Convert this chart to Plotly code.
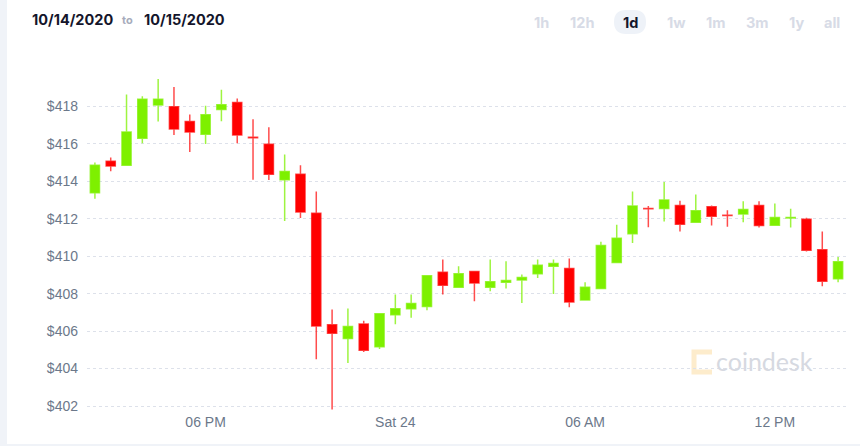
import plotly.graph_objects as go
import pandas as pd

# ---- data (30-minute candles) ----
times = pd.date_range("2020-10-23 14:30", periods=48, freq="30min")
opens = [413.39, 415.07, 414.86, 416.30, 418.07, 417.98, 417.20, 416.52, 417.84, 418.21,
         416.35, 415.98, 414.09, 414.38, 412.30, 406.34, 405.61, 406.38, 405.16, 406.88,
         407.20, 407.32, 409.14, 408.34, 409.18, 408.34, 408.61, 408.73, 409.07, 409.46,
         409.34, 407.66, 408.27, 409.66, 411.20, 412.55, 412.55, 412.71, 411.82, 412.64,
         412.19, 412.25, 412.71, 411.66, 412.04, 411.98, 410.34, 408.80]
highs = [415.00, 415.27, 418.64, 418.54, 419.46, 419.04, 417.57, 418.04, 418.89, 418.43,
         417.32, 416.89, 415.43, 414.86, 413.46, 407.16, 407.21, 406.55, 406.93, 407.95,
         407.96, 408.96, 409.82, 409.46, 409.18, 409.82, 409.73, 409.02, 409.82, 409.82,
         409.88, 408.61, 410.77, 411.68, 413.46, 412.68, 413.96, 412.96, 413.30, 412.71,
         412.45, 412.93, 412.93, 412.82, 412.54, 412.05, 411.32, 409.96]
lows = [413.07, 414.54, 414.82, 416.04, 417.20, 416.48, 415.57, 416.00, 417.21, 416.04,
        414.09, 414.07, 411.88, 412.04, 404.50, 401.82, 404.30, 404.89, 405.04, 406.36,
        406.71, 407.11, 407.95, 408.34, 407.59, 408.13, 408.27, 407.50, 408.84, 407.98,
        407.27, 407.66, 408.27, 409.66, 410.70, 411.55, 411.86, 411.32, 411.82, 411.64,
        411.57, 411.82, 411.54, 411.66, 411.54, 410.25, 408.39, 408.61]
closes = [414.86, 414.82, 416.63, 418.38, 418.38, 416.80, 416.63, 417.55, 418.09, 416.48,
          416.33, 414.38, 414.52, 412.36, 406.27, 405.88, 406.25, 404.98, 406.93, 407.20,
          407.48, 408.96, 408.45, 409.07, 408.57, 408.64, 408.70, 408.86, 409.52, 409.61,
          407.55, 408.34, 410.57, 410.96, 412.68, 412.53, 413.00, 411.71, 412.43, 412.14,
          412.17, 412.50, 411.64, 412.07, 412.07, 410.32, 408.66, 409.70]

tick_vals = ["2020-10-23 18:00", "2020-10-24 00:00", "2020-10-24 06:00", "2020-10-24 12:00"]
tick_text = ["06 PM", "Sat 24", "06 AM", "12 PM"]
y_ticks = [402, 404, 406, 408, 410, 412, 414, 416, 418]
start_label = "10/14/2020"
end_label = "10/15/2020"
range_buttons = ["1h", "12h", "1d", "1w", "1m", "3m", "1y", "all"]
button_x = [541, 582, 630, 676, 715, 757, 796, 832]

# ---- layout geometry ----
W, H = 860, 446
L, R, T, B = 87, 14, 60, 34
pw, ph = W - L - R, H - T - B


def px(x):
    return (x - L) / pw


def py(y):
    return (H - B - y) / ph


GREEN = "#7ef000"
RED = "#ff0000"
LABEL = "#6c788a"

fig = go.Figure()
fig.add_trace(go.Candlestick(
    x=times, open=opens, high=highs, low=lows, close=closes,
    increasing=dict(fillcolor=GREEN, line=dict(color="rgba(126,240,0,0.75)", width=1.5)),
    decreasing=dict(fillcolor=RED, line=dict(color="rgba(255,0,0,0.7)", width=1.5)),
    whiskerwidth=0, hoverinfo="skip", showlegend=False,
))

shapes = [
    # white card over the light page background
    dict(type="rect", xref="paper", yref="paper", layer="below",
         x0=px(7), x1=px(W + 5), y0=py(444), y1=py(-5),
         fillcolor="white", line=dict(width=0)),
    # pill behind the active "1d" button
    dict(type="path", xref="paper", yref="paper", layer="below",
         path=(f"M {px(626)},{py(10)} L {px(634)},{py(10)} "
               f"Q {px(646)},{py(10)} {px(646)},{py(22)} "
               f"Q {px(646)},{py(34)} {px(634)},{py(34)} "
               f"L {px(626)},{py(34)} Q {px(614)},{py(34)} {px(614)},{py(22)} "
               f"Q {px(614)},{py(10)} {px(626)},{py(10)} Z"),
         fillcolor="#eef2f8", line=dict(width=0)),
    # watermark logo bracket
    dict(type="path", xref="paper", yref="paper", layer="below",
         path=(f"M {px(712)},{py(352)} L {px(694)},{py(352)} L {px(694)},{py(372)} "
               f"L {px(712)},{py(372)}"),
         line=dict(color="#fdeccc", width=5)),
]

HEAD = "Inter, Liberation Sans, sans-serif"
annotations = [
    dict(text=f"<b>{start_label}</b>", x=px(30), y=py(19), xanchor="left", yanchor="middle",
         font=dict(family=HEAD, size=14.5, color="#14152b")),
    dict(text="<b>to</b>", x=px(127), y=py(20), xanchor="center", yanchor="middle",
         font=dict(family=HEAD, size=11, color="#a6abbb")),
    dict(text=f"<b>{end_label}</b>", x=px(142), y=py(19), xanchor="left", yanchor="middle",
         font=dict(family=HEAD, size=14.5, color="#14152b")),
    dict(text="coindesk", x=px(764), y=py(361), xanchor="center", yanchor="middle",
         font=dict(family="Lato, Liberation Sans, sans-serif", size=25, color="#d6d9e1")),
]
for lab, bx in zip(range_buttons, button_x):
    active = lab == "1d"
    annotations.append(dict(
        text=f"<b>{lab}</b>", x=px(bx), y=py(22), xanchor="center", yanchor="middle",
        font=dict(family=HEAD, size=14.5,
                  color="#14152b" if active else "#d7dbe6")))
for a in annotations:
    a.update(xref="paper", yref="paper", showarrow=False)

fig.update_layout(
    width=W, height=H,
    margin=dict(l=L, r=R, t=T, b=B, pad=0),
    paper_bgcolor="#f0f3f8", plot_bgcolor="white",
    boxgap=0.17,
    hovermode=False,
    shapes=shapes, annotations=annotations,
    xaxis=dict(
        type="date",
        range=["2020-10-23 14:15", "2020-10-24 14:15"],
        tickvals=tick_vals, ticktext=tick_text,
        showgrid=False, zeroline=False, showline=False, ticks="",
        rangeslider=dict(visible=False),
        tickfont=dict(family="Liberation Sans, Arial, sans-serif", size=14, color=LABEL),
    ),
    yaxis=dict(
        range=[401.68, 420.48], tickmode="array", tickvals=y_ticks,
        ticktext=[f"${v}" for v in y_ticks],
        showgrid=True, gridcolor="#dde1ea", griddash="dot", gridwidth=1,
        zeroline=False, showline=False, ticks="", ticklabelstandoff=8,
        tickfont=dict(family="Liberation Sans, Arial, sans-serif", size=14, color=LABEL),
    ),
)

fig.write_html("out.html", config=dict(displayModeBar=False))
